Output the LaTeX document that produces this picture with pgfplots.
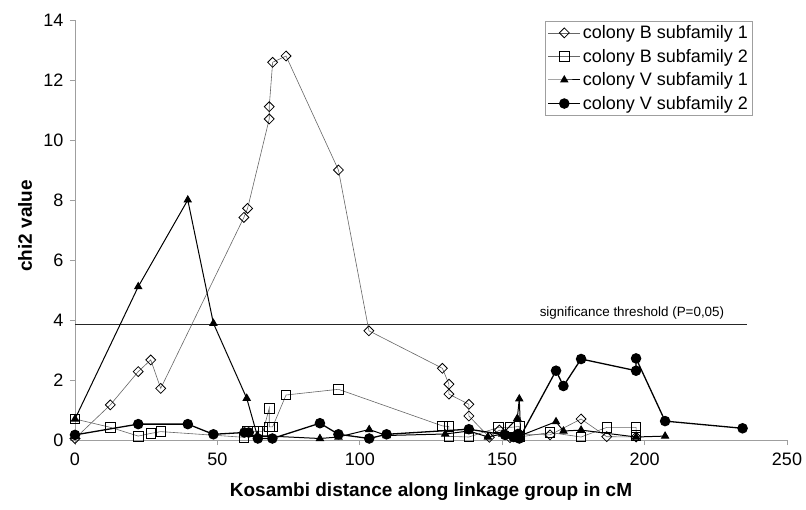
\documentclass[border=0pt]{standalone}
\usepackage{fontspec}
\setmainfont{Liberation Sans}
\usepackage{pgfplots}
\pgfplotsset{compat=1.18}
\begin{document}
\begin{tikzpicture}
\begin{axis}[
  at={(0,0)}, anchor=south west,
  scale only axis, width=712pt, height=420pt,
  xmin=0, xmax=250, ymin=0, ymax=14,
  xtick={0,50,...,250}, ytick={0,2,...,14},
  axis x line*=bottom, axis y line*=left,
  axis line style={gray!75, line width=0.8pt, -},
  tick style={gray!75, line width=0.8pt},
  tick align=outside, major tick length=5pt,
  /pgf/number format/assume math mode=true,
  ticklabel style={font=\fontsize{18}{20}\selectfont},
  xticklabel style={yshift=-4pt},
  yticklabel style={xshift=-3pt},
  xlabel={Kosambi distance along linkage group in cM},
  ylabel={chi2 value},
  label style={font=\fontsize{19}{22}\selectfont\bfseries},
  xlabel style={at={(axis description cs:0.5,-0.124)}, anchor=center},
  ylabel style={at={(axis description cs:-0.07,0.51)}, anchor=center},
  legend style={at={(axis description cs:0.952,0.998)}, anchor=north east,
    draw=gray!75, line width=0.6pt, font=\fontsize{18}{21}\selectfont,
    row sep=5pt, inner sep=2.5pt},
  legend cell align=left,
  legend image code/.code={\draw[mark repeat=2, mark phase=2] plot coordinates {(0pt,0pt) (16pt,0pt) (32pt,0pt)};},
]
\addplot[black!85, line width=1.2pt, forget plot] coordinates {(0,3.84) (236,3.84)};

% colony B subfamily 1
\addplot[gray!80!black, line width=0.6pt, mark=square, mark size=3.5pt,
  mark options={rotate=45, fill=white, draw=black, line width=0.8pt}] coordinates {
(0,0.05) (12.4,1.17) (22.2,2.28) (26.6,2.67) (30.1,1.72) (59.3,7.42) (60.6,7.72)
(68.2,10.7) (68.2,11.11) (69.4,12.59) (74.1,12.8) (92.5,9.0) (103.2,3.64)
(129,2.39) (131.3,1.86) (131.3,1.53) (138.3,1.19) (138.3,0.8) (145.5,0.09)
(149,0.33) (152.7,0.08) (156,0.2) (166.8,0.17) (177.7,0.7) (186.7,0.11) (197,0.1)};
\addlegendentry{colony B subfamily 1}

% colony B subfamily 2
\addplot[gray!80!black, line width=0.6pt, mark=square, mark size=4.8pt,
  mark options={fill=white, draw=black, line width=0.8pt}] coordinates {
(0,0.7) (12.5,0.42) (22.2,0.13) (26.6,0.22) (30.1,0.28) (59.3,0.09) (60.6,0.28)
(64,0.28) (66,0.28) (68.2,1.06) (68.2,0.44) (69.4,0.44) (74.1,1.5) (92.5,1.69)
(129,0.47) (131.3,0.45) (131.3,0.12) (138.3,0.1) (148.7,0.42) (152.7,0.42)
(156,0.45) (156,0.1) (166.8,0.25) (177.7,0.1) (186.7,0.42) (197,0.42) (197,0.15)};
\addlegendentry{colony B subfamily 2}

% colony V subfamily 1
\addplot[black, line width=1pt, mark=triangle*, mark size=4pt,
  mark options={fill=black}] coordinates {
(0,0.7) (22.2,5.11) (39.6,8.0) (48.6,3.89) (60.3,1.39) (64,0.15) (86,0.05)
(92.5,0.1) (103.3,0.35) (109.4,0.15) (130,0.2) (138.3,0.3) (145,0.1) (150,0.2)
(155.3,0.72) (156,1.37) (156.5,0.15) (168.9,0.61) (171.5,0.3) (177.7,0.33)
(197,0.1) (207.2,0.13)};
\addlegendentry{colony V subfamily 1}

% colony V subfamily 2
\addplot[black, line width=1.3pt, mark=*, mark size=4.6pt,
  mark options={fill=black}] coordinates {
(0,0.17) (22.2,0.53) (39.6,0.53) (48.6,0.19) (59.5,0.25) (61,0.25) (64.2,0.05)
(69.3,0.05) (86,0.56) (92.5,0.19) (103.3,0.05) (109.4,0.19) (138.3,0.36)
(151,0.17) (154,0.1) (155.5,0.2) (156,0.05) (168.9,2.31) (171.5,1.8)
(177.7,2.7) (197,2.31) (197,2.72) (207.2,0.63) (234.4,0.39)};
\addlegendentry{colony V subfamily 2}

\node[anchor=base east, inner sep=0pt, font=\fontsize{13.4}{15}\selectfont]
  at (axis cs:228,3.84) [yshift=8.5pt] {significance threshold (P=0,05)};
\end{axis}
\pgfresetboundingbox
\path (-75pt,-69pt) rectangle (731pt,440pt);
\end{tikzpicture}
\end{document}
